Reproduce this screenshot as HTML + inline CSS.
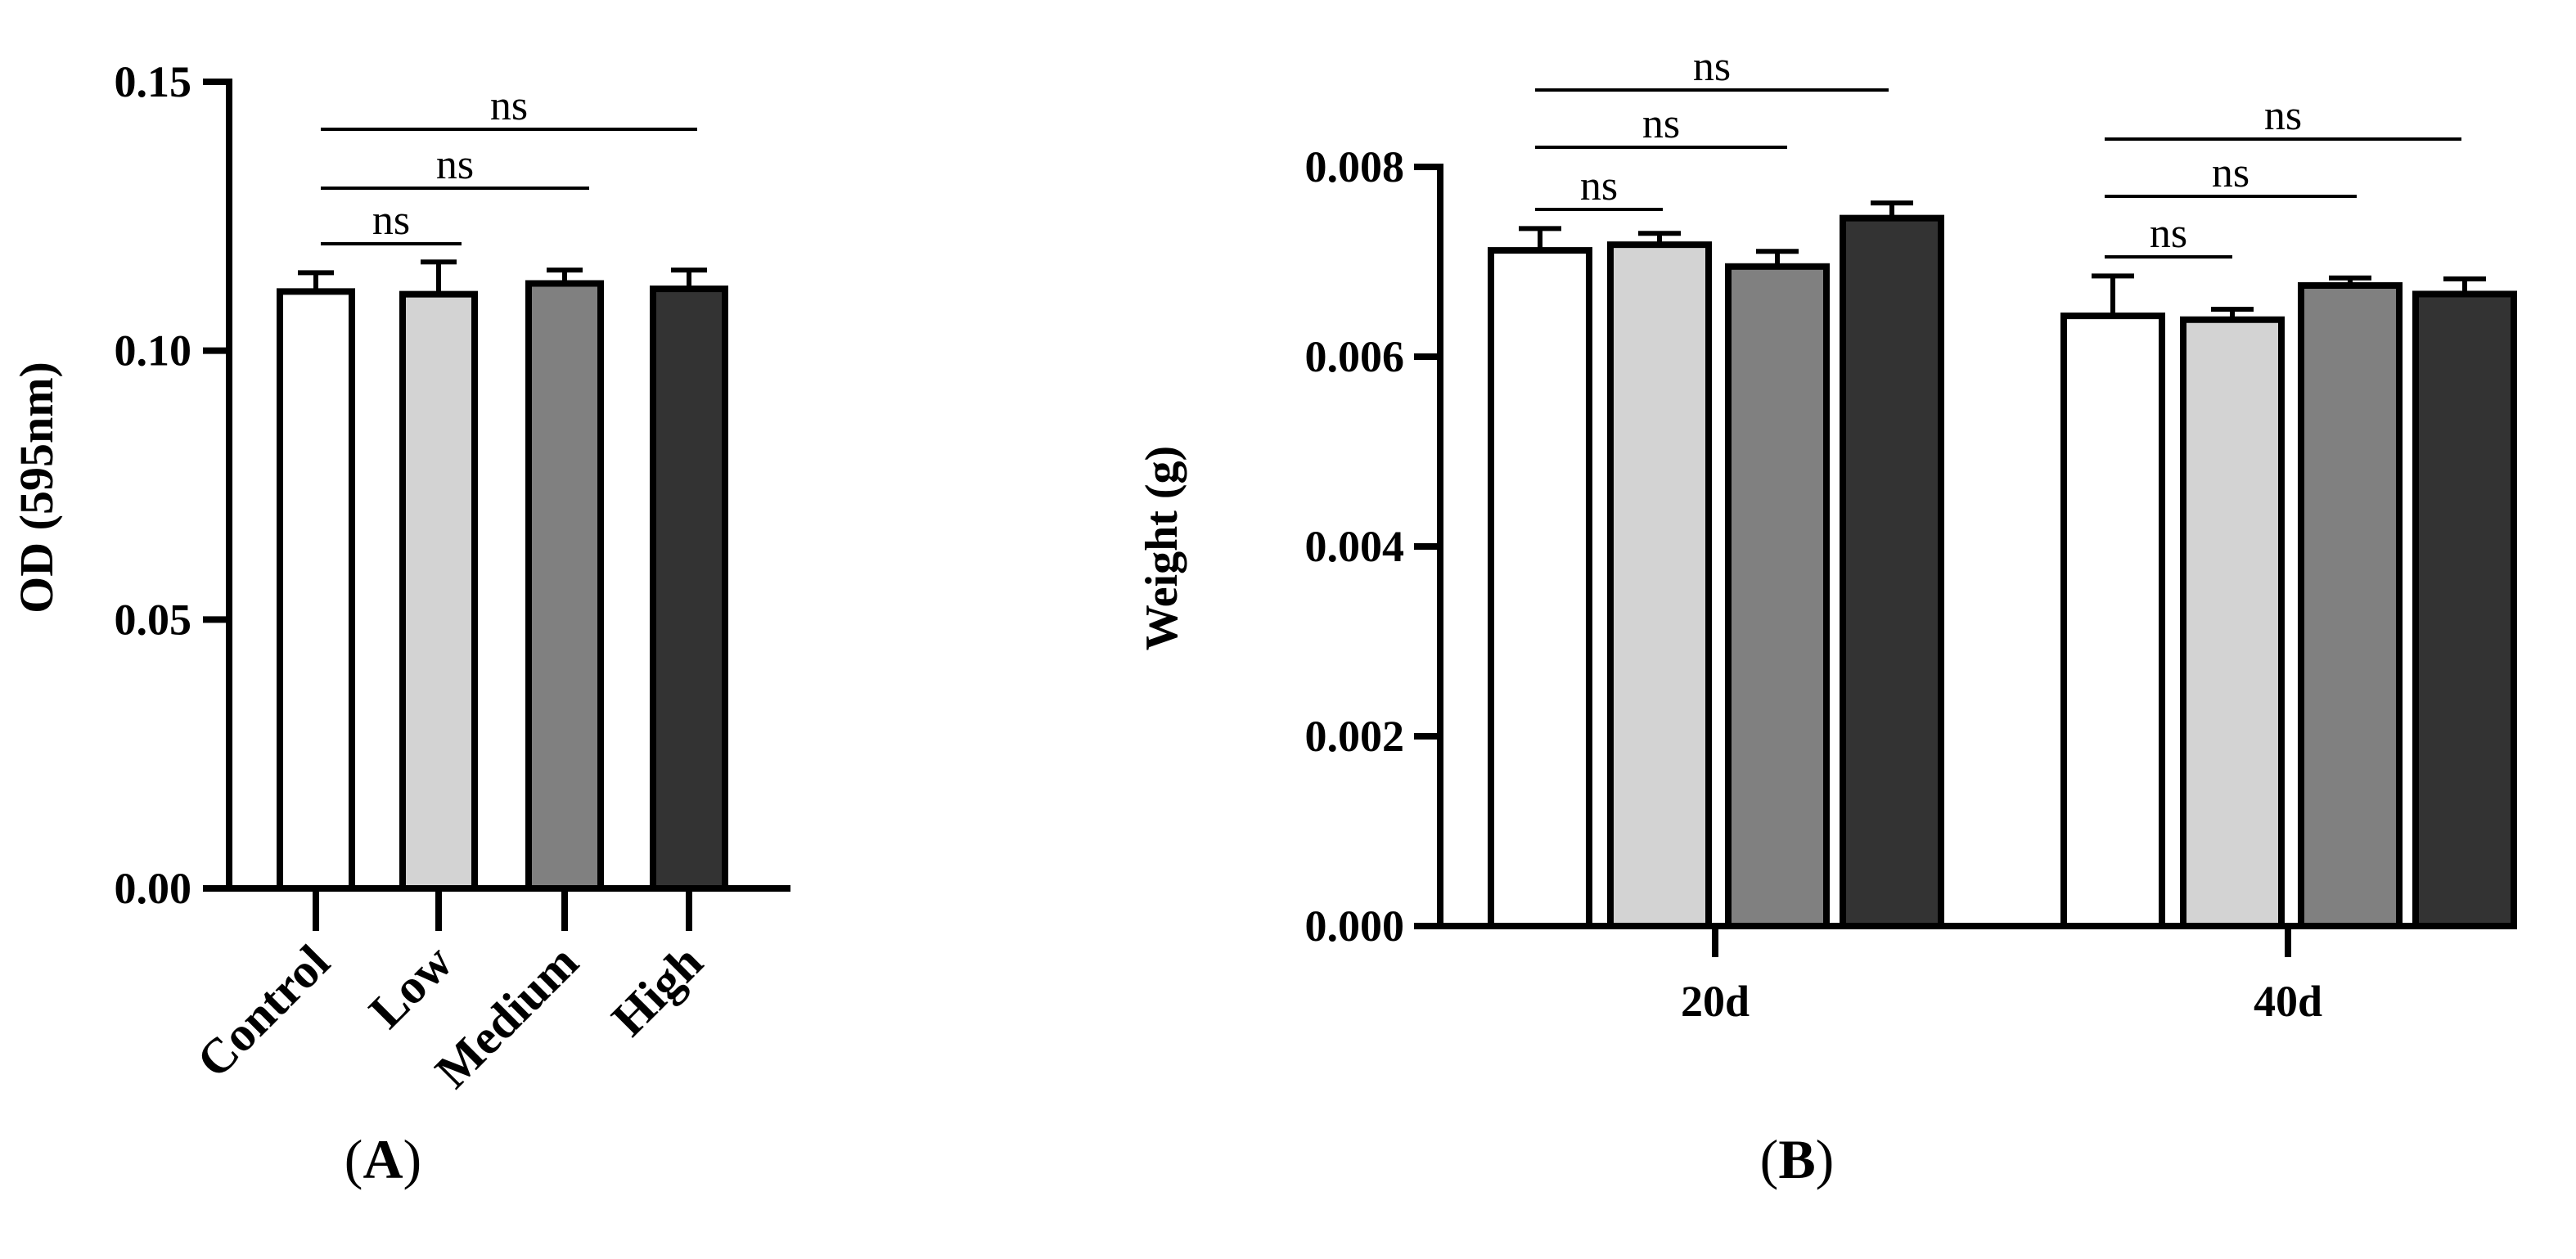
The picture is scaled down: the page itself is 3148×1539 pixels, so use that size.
<!DOCTYPE html>
<html><head><meta charset="utf-8"><style>
html,body{margin:0;padding:0;background:#fff;}
svg{display:block;}
text{font-family:"Liberation Serif",serif;}
</style></head><body>
<svg id="fig" width="3148" height="1539" viewBox="0 0 1574 769.5">
<g id="panelA"></g>
<g id="panelB"></g>
</svg>
<script>
// Panel A data
const catsA = ["Control","Low","Medium","High"];
const meansA = [0.111, 0.1105, 0.1125, 0.1115];
const errA = [0.0035, 0.006, 0.0025, 0.0035];
const ticksA = [0, 0.05, 0.10, 0.15];
const tickLabelsA = ["0.00","0.05","0.10","0.15"];
const sigA = [[0,1],[0,2],[0,3]];
// Panel B data
const groupsB = ["20d","40d"];
const meansB20 = [0.00712, 0.00718, 0.00695, 0.00746];
const meansB40 = [0.00643, 0.00639, 0.00675, 0.00666];
const errB20 = [0.00023, 0.00012, 0.00016, 0.00016];
const errB40 = [0.00042, 0.00011, 0.00008, 0.00016];
const ticksB = [0, 0.002, 0.004, 0.006, 0.008];
const tickLabelsB = ["0.000","0.002","0.004","0.006","0.008"];
const fills = ["#ffffff","#d3d3d3","#808080","#333333"];

const NS="http://www.w3.org/2000/svg";
function mk(parent,tag,attrs,txt){const e=document.createElementNS(NS,tag);for(const k in attrs)e.setAttribute(k,attrs[k]);if(txt!==undefined)e.textContent=txt;parent.appendChild(e);return e;}

// ---- Panel A ----
(function(){
const g=document.getElementById('panelA');
const y0=543,y1=50,x0=140,vmax=0.15;
const yA=v=>y0-(v/vmax)*(y0-y1);
const centers=[193,268,345,421], bw=44;
catsA.forEach((c,i)=>{
  const cx=centers[i];
  const eb=mk(g,'line',{x1:cx,x2:cx,y1:yA(meansA[i]),y2:yA(meansA[i]+errA[i]),stroke:'#000','stroke-width':3});
  
  
  const cap=mk(g,'line',{x1:cx-11,x2:cx+11,y1:yA(meansA[i]+errA[i]),y2:yA(meansA[i]+errA[i]),stroke:'#000','stroke-width':3});
  
  
  const r=mk(g,'rect',{x:cx-bw/2,y:yA(meansA[i]),width:bw,height:y0-yA(meansA[i]),fill:fills[i],stroke:'#000','stroke-width':4});
  
  
  const tk=mk(g,'line',{x1:cx,x2:cx,y1:y0,y2:569,stroke:'#000','stroke-width':4});
  
  
  const t=mk(g,'text',{x:cx+10,y:590,'font-size':30,'font-weight':'bold','text-anchor':'end',transform:`rotate(-45 ${cx+10} 590)`},c);
  
  
});
const ax=mk(g,'path',{d:`M${x0},${y1-2} V${y0} H483`,fill:'none',stroke:'#000','stroke-width':4});


ticksA.forEach((v,i)=>{
  const tl=mk(g,'line',{x1:124,x2:x0,y1:yA(v),y2:yA(v),stroke:'#000','stroke-width':4});
  
  
  const t=mk(g,'text',{x:117,y:yA(v)+9,'font-size':27,'font-weight':'bold','text-anchor':'end'},tickLabelsA[i]);
  
  
});
const yl=mk(g,'text',{x:0,y:0,'font-size':29,'font-weight':'bold','text-anchor':'middle',transform:'translate(32,298) rotate(-90)'},'OD (595nm)');


const sigY=[149,115,79];
sigA.forEach((p,i)=>{
  const xa=196,xb=[282,360,426][i];
  const l=mk(g,'line',{x1:xa,x2:xb,y1:sigY[i],y2:sigY[i],stroke:'#000','stroke-width':2});
  
  
  const t=mk(g,'text',{x:(xa+xb)/2,y:sigY[i]-6,'font-size':26,'text-anchor':'middle'},'ns');
  
  
});
const pl=mk(g,'text',{x:234,y:720,'font-size':34,'text-anchor':'middle'},'');
pl.innerHTML='(<tspan font-weight="bold">A</tspan>)';


})();

// ---- Panel B ----
(function(){
const g=document.getElementById('panelB');
const y0=566,y1=102,x0=880,vmax=0.008;
const yB=v=>y0-(v/vmax)*(y0-y1);
const groupCenters=[1048,1398];
const offs=[-107,-34,38,108], bw=60;
const series=[[meansB20,errB20],[meansB40,errB40]];
groupsB.forEach((gname,gi)=>{
  const [m,e]=series[gi];
  m.forEach((v,i)=>{
    const cx=groupCenters[gi]+offs[i];
    const eb=mk(g,'line',{x1:cx,x2:cx,y1:yB(v),y2:yB(v+e[i]),stroke:'#000','stroke-width':3});
    
    
    const cap=mk(g,'line',{x1:cx-13,x2:cx+13,y1:yB(v+e[i]),y2:yB(v+e[i]),stroke:'#000','stroke-width':3});
    
    
    const r=mk(g,'rect',{x:cx-bw/2,y:yB(v),width:bw,height:y0-yB(v),fill:fills[i],stroke:'#000','stroke-width':4});
    
    
  });
  const tk=mk(g,'line',{x1:groupCenters[gi],x2:groupCenters[gi],y1:y0,y2:585,stroke:'#000','stroke-width':4});
  
  
  const t=mk(g,'text',{x:groupCenters[gi],y:621,'font-size':27,'font-weight':'bold','text-anchor':'middle'},gname);
  
  
});
const ax=mk(g,'path',{d:`M${x0},${y1-2} V${y0} H1536`,fill:'none',stroke:'#000','stroke-width':4});


ticksB.forEach((v,i)=>{
  const tl=mk(g,'line',{x1:864,x2:x0,y1:yB(v),y2:yB(v),stroke:'#000','stroke-width':4});
  
  
  const t=mk(g,'text',{x:858,y:yB(v)+9,'font-size':27,'font-weight':'bold','text-anchor':'end'},tickLabelsB[i]);
  
  
});
const yl=mk(g,'text',{x:0,y:0,'font-size':28,'font-weight':'bold','text-anchor':'middle',transform:'translate(719,335) rotate(-90)'},'Weight (g)');


const sig=[[938,1016,128],[938,1092,90],[938,1154,55],[1286,1364,157],[1286,1440,120],[1286,1504,85]];
sig.forEach(s=>{
  const l=mk(g,'line',{x1:s[0],x2:s[1],y1:s[2],y2:s[2],stroke:'#000','stroke-width':2});
  
  
  const t=mk(g,'text',{x:(s[0]+s[1])/2,y:s[2]-6,'font-size':26,'text-anchor':'middle'},'ns');
  
  
});
const pl=mk(g,'text',{x:1098,y:720,'font-size':34,'text-anchor':'middle'},'');
pl.innerHTML='(<tspan font-weight="bold">B</tspan>)';


})();
</script>
</body></html>
